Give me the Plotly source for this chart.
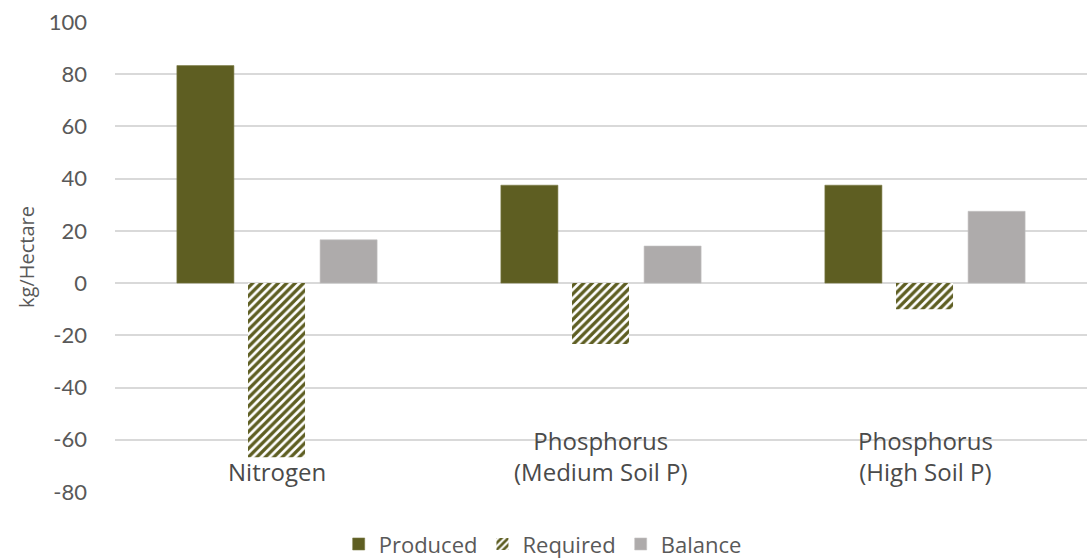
import plotly.graph_objects as go

categories = ["Nitrogen", "Phosphorus<br>(Medium Soil P)", "Phosphorus<br>(High Soil P)"]
produced = [83.3, 37.5, 37.5]
required = [-66.7, -23.3, -10.0]
balance = [16.6, 14.2, 27.5]
y_ticks = [100, 80, 60, 40, 20, 0, -20, -40, -60, -80]

OLIVE = "#5E5E22"
GREY = "#AEABAB"
TEXT = "#595959"
GRID = "#D9D9D9"

x_pos = list(range(len(categories)))
bar_w = 0.176

fig = go.Figure()
fig.add_trace(go.Bar(
    name="Produced", x=x_pos, y=produced, width=bar_w, offset=-0.309,
    marker=dict(color=OLIVE, line=dict(color="#7A7A45", width=0.6)),
))
fig.add_trace(go.Bar(
    name="Required", x=x_pos, y=required, width=bar_w, offset=-0.0895,
    marker=dict(color="white", line=dict(color="white", width=0),
                pattern=dict(shape="/", fgcolor=OLIVE, bgcolor="white",
                             size=6, solidity=0.55, fillmode="replace")),
))
fig.add_trace(go.Bar(
    name="Balance", x=x_pos, y=balance, width=bar_w, offset=0.133,
    marker=dict(color=GREY, line=dict(color="#C4C2C2", width=0.6)),
))

# category names sit just above the bottom gridline
for xi, label in zip(x_pos, categories):
    fig.add_annotation(x=xi, y=-80, text=label, showarrow=False,
                       yanchor="bottom", yshift=2, xanchor="center",
                       font=dict(family="Open Sans", size=24, color="#4A4A4A"))

fig.update_layout(
    width=1091, height=558,
    margin=dict(l=115, r=4, t=22, b=66, autoexpand=False),
    plot_bgcolor="white", paper_bgcolor="white",
    barmode="overlay",
    showlegend=True,
    legend=dict(orientation="h", x=0.44, xanchor="center", y=-0.111, yanchor="middle",
                font=dict(family="Open Sans", size=22, color=TEXT),
                itemwidth=30, traceorder="normal"),
    font=dict(family="Open Sans", color=TEXT),
)
fig.update_xaxes(range=[-0.5, 2.5], showticklabels=False, showgrid=False,
                 zeroline=False, showline=False, ticks="")
fig.update_yaxes(range=[-80, 100], tickvals=y_ticks, ticktext=[str(v) for v in y_ticks],
                 showgrid=True, gridcolor=GRID, gridwidth=1.5,
                 zeroline=True, zerolinecolor=GRID, zerolinewidth=1.5,
                 showline=False, ticks="", ticklabelstandoff=27,
                 tickfont=dict(family="Lato", size=22, color=TEXT),
                 title=dict(text="kg/Hectare", standoff=8,
                            font=dict(family="Open Sans", size=20, color=TEXT)))

fig.write_html("out.html")
